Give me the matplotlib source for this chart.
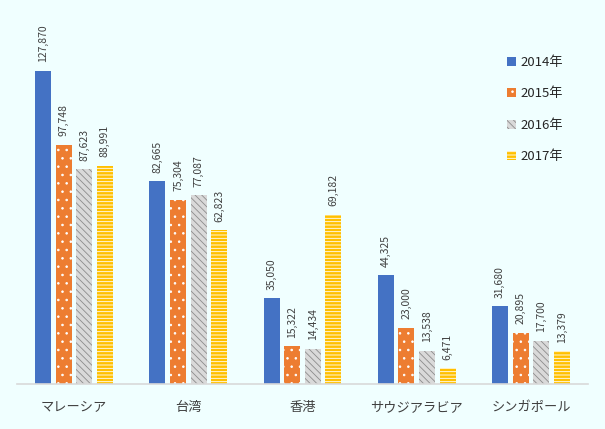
import numpy as np
import matplotlib.pyplot as plt

plt.rcParams['font.family'] = ['Noto Sans CJK JP', 'DejaVu Sans']
plt.rcParams['hatch.linewidth'] = 0.6

countries = ['マレーシア', '台湾', '香港', 'サウジアラビア', 'シンガポール']
years = ['2014年', '2015年', '2016年', '2017年']
v2014 = [127870, 82665, 35050, 44325, 31680]
v2015 = [97748, 75304, 15322, 23000, 20895]
v2016 = [87623, 77087, 14434, 13538, 17700]
v2017 = [88991, 62823, 69182, 6471, 13379]

series = [v2014, v2015, v2016, v2017]
# (facecolor, hatch, hatch colour)
styles = [
    ('#4472C4', None, '#4472C4'),
    ('#ED7D31', '..', 'white'),
    ('#D9D9D9', '\\\\\\\\\\', '#8C8C8C'),
    ('#FFC000', '-----', 'white'),
]

bg = '#F0FFFF'
fig = plt.figure(figsize=(6.05, 4.29), dpi=100, facecolor=bg)
ax = fig.add_axes([17 / 605, 1 - 384 / 429, 571 / 605, 343 / 429])
ax.set_facecolor(bg)

x = np.arange(len(countries))
step = 0.18
width = 0.14
for i, (vals, (fc, hatch, hc)) in enumerate(zip(series, styles)):
    pos = x + (i - 1.5) * step
    bars = ax.bar(pos, vals, width, color=fc, hatch=hatch, edgecolor=hc,
                  linewidth=0, label=years[i])
    for b, v in zip(bars, vals):
        ax.text(b.get_x() + b.get_width() / 2, v + 3500, f'{v:,}',
                rotation=90, ha='center', va='bottom', fontsize=7.5,
                color='#404040')

ax.set_xlim(-0.5, len(countries) - 0.5)
ax.set_ylim(0, 140000)
ax.set_xticks(x)
ax.set_xticklabels(countries, fontsize=9.5, color='#404040')
ax.tick_params(axis='x', length=0, pad=12)
ax.set_yticks([])
for s in ['top', 'right', 'left']:
    ax.spines[s].set_visible(False)
ax.spines['bottom'].set_color('#D9D9D9')
ax.spines['bottom'].set_linewidth(1.2)

leg = ax.legend(loc='upper left', bbox_to_anchor=(478 / 571, 1 - 3 / 343),
                frameon=False, fontsize=9.5, handlelength=0.7, handleheight=0.7,
                handletextpad=0.3, labelspacing=1.4)
for t in leg.get_texts():
    t.set_color('#262626')

fig.savefig('out.png', dpi=100, facecolor=bg)
